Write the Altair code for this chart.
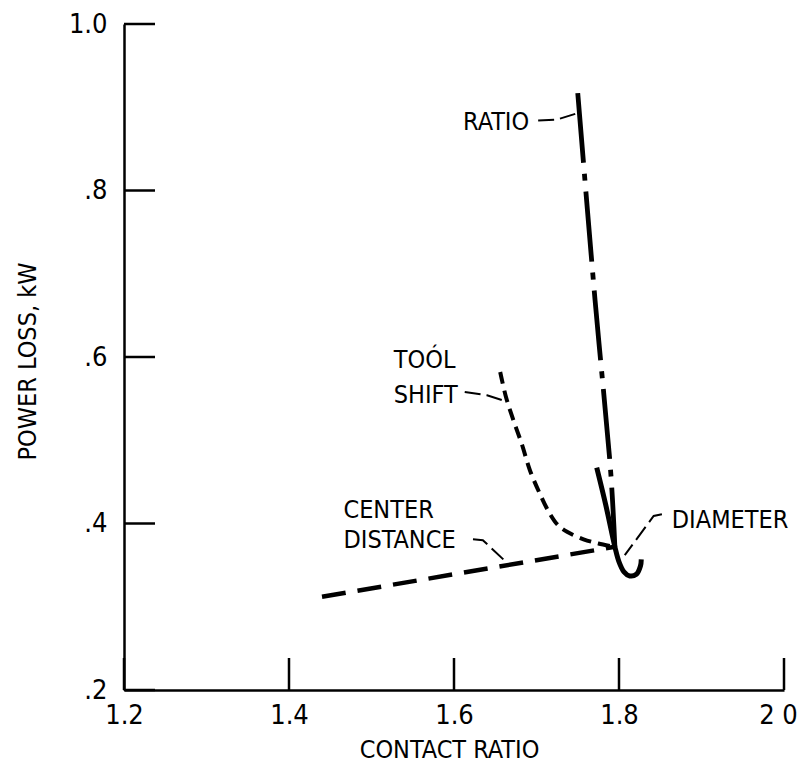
import json
import altair as alt
import pandas as pd

FONT = "DejaVu Sans Condensed, DejaVu Sans, sans-serif"

# ---- axes ----
x_ticks = [1.2, 1.4, 1.6, 1.8, 2.0]
x_tick_labels = ["1.2", "1.4", "1.6", "1.8", "2 0"]
y_ticks = [0.2, 0.4, 0.6, 0.8, 1.0]
y_tick_labels = [".2", ".4", ".6", ".8", "1.0"]

# ---- curves ----
ratio_x = [1.750, 1.771, 1.790, 1.795]
ratio_y = [0.917, 0.668, 0.461, 0.372]

tool_x = [1.656, 1.663, 1.672, 1.682, 1.692, 1.704, 1.716, 1.726, 1.737, 1.757, 1.775, 1.795]
tool_y = [0.582, 0.552, 0.524, 0.496, 0.464, 0.436, 0.412, 0.398, 0.390, 0.381, 0.376, 0.372]

center_x = [1.440, 1.795]
center_y = [0.312, 0.372]

diam_x = [1.773, 1.784, 1.795, 1.800, 1.806, 1.813, 1.821, 1.826, 1.827]
diam_y = [0.467, 0.422, 0.372, 0.354, 0.342, 0.337, 0.339, 0.349, 0.357]

# ---- labels ----
label_text = ["RATIO", "TOÓL", "SHIFT", "CENTER", "DISTANCE", "DIAMETER"]
label_x = [1.611, 1.527, 1.527, 1.466, 1.466, 1.864]
label_y = [0.882, 0.596, 0.554, 0.416, 0.380, 0.404]

# ---- leader lines ----
lead_group = ["r", "r", "r", "s", "s", "s", "c", "c", "c", "d", "d", "d"]
lead_x = [1.702, 1.724, 1.750, 1.613, 1.640, 1.659, 1.623, 1.635, 1.664, 1.852, 1.842, 1.807]
lead_y = [0.884, 0.885, 0.893, 0.558, 0.554, 0.548, 0.381, 0.380, 0.353, 0.411, 0.409, 0.362]


def series(xs, ys):
    return pd.DataFrame({"x": xs, "y": ys, "i": list(range(len(xs)))})


def lbl_expr(vals, labels):
    return f"{json.dumps(labels)}[indexof({json.dumps(vals)}, datum.value)]"


W, H = 660, 666

xscale = alt.Scale(domain=[1.2, 2.0], nice=False, zero=False)
yscale = alt.Scale(domain=[0.2, 1.0], nice=False, zero=False)

xaxis = alt.Axis(
    values=x_ticks, labelExpr=lbl_expr(x_ticks, x_tick_labels),
    ticks=False, tickSize=0, grid=False, labelFlush=False, labelOverlap=False,
    labelPadding=25, labelBaseline="middle", labelFontSize=27,
    labelOffset={"condition": {"test": "datum.value >= 1.99", "value": -6}, "value": 0},
    title="CONTACT RATIO", titleX=325, titleY=59, titleBaseline="middle",
    titleAlign="center", titleFontSize=25,
)
yaxis = alt.Axis(
    values=y_ticks, labelExpr=lbl_expr(y_ticks, y_tick_labels),
    ticks=False, tickSize=0, grid=False, labelFlush=False, labelOverlap=False,
    labelPadding=17, labelBaseline="middle", labelFontSize=27,
    title="POWER LOSS, kW", titleX=-97, titleY=337, titleAngle=-90,
    titleBaseline="middle", titleAlign="center", titleFontSize=25,
)

X = alt.X("x:Q", scale=xscale, axis=xaxis)
Y = alt.Y("y:Q", scale=yscale, axis=yaxis)


def curve(df, dash, width):
    kw = dict(color="black", strokeWidth=width, strokeCap="butt",
              interpolate="catmull-rom")
    if dash:
        kw["strokeDash"] = dash
    return alt.Chart(df).mark_line(**kw).encode(x=X, y=Y, order="i:Q")


ratio = curve(series(ratio_x, ratio_y), [70, 11, 7, 11], 4.8)
tool = curve(series(tool_x, tool_y), [12, 7], 4)
center = curve(series(center_x, center_y), [24, 12], 4.5)
diam = curve(series(diam_x, diam_y), None, 5)

lead_df = pd.DataFrame({"x": lead_x, "y": lead_y, "g": lead_group,
                        "i": list(range(len(lead_x)))})
leaders = alt.Chart(lead_df).mark_line(
    color="black", strokeWidth=2, strokeDash=[16, 6]
).encode(x=X, y=Y, detail="g:N", order="i:Q")

txt_df = pd.DataFrame({"x": label_x, "y": label_y, "t": label_text})
texts = alt.Chart(txt_df).mark_text(
    align="left", baseline="middle", font=FONT, fontSize=25, color="black"
).encode(x=X, y=Y, text="t:N")

yt = alt.Chart(pd.DataFrame({"y": y_ticks})).mark_rule(
    color="black", strokeWidth=2.5
).encode(y=Y, x=alt.value(0), x2=alt.value(31))

xt = alt.Chart(pd.DataFrame({"x": x_ticks})).mark_rule(
    color="black", strokeWidth=2.5
).encode(x=X, y=alt.value(H), y2=alt.value(H - 32))

chart = alt.layer(xt, yt, center, tool, ratio, diam, leaders, texts).properties(
    width=W, height=H,
    padding={"left": 116, "top": 16, "right": 15, "bottom": 72},
    autosize=alt.AutoSizeParams(type="none"),
).configure_view(stroke=None).configure_axis(
    domainColor="black", domainWidth=2.5, labelColor="black", titleColor="black",
    labelFont=FONT, titleFont=FONT, titleFontWeight="normal",
)

chart.save("out.html", embed_options={"renderer": "svg", "actions": False})
